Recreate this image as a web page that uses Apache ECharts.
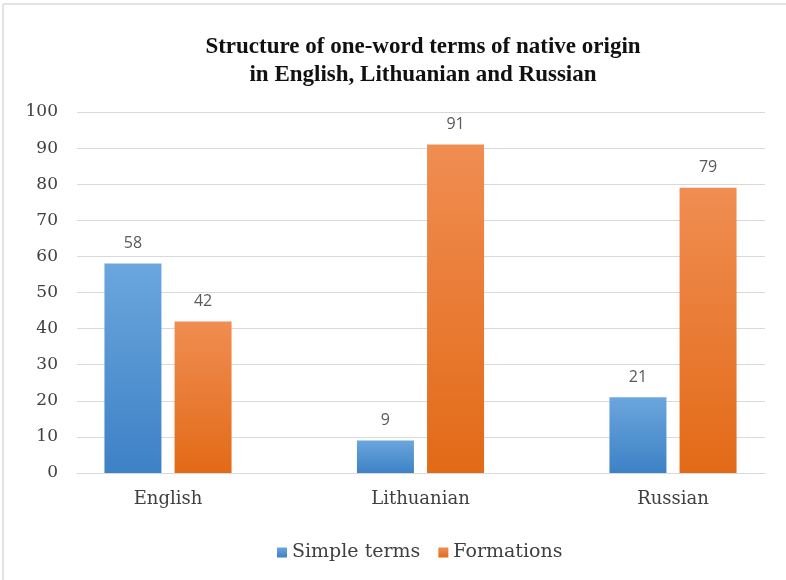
<!DOCTYPE html>
<html>
<head>
<meta charset="utf-8">
<script src="https://cdn.jsdelivr.net/npm/echarts@6/dist/echarts.min.js"></script>
<style>
html,body{margin:0;padding:0;background:#fff;}
#chart{width:786px;height:580px;}
</style>
</head>
<body>
<div id="chart"></div>
<script>
const categories = ['English', 'Lithuanian', 'Russian'];
const simpleTerms = [58, 9, 21];
const formations = [42, 91, 79];
const seriesNames = ['Simple terms', 'Formations'];
const titleLines = ['Structure of one-word terms of native origin', 'in English, Lithuanian and Russian'];

const chart = echarts.init(document.getElementById('chart'));

function grad(top, bottom) {
  return new echarts.graphic.LinearGradient(0, 0, 0, 1, [
    { offset: 0, color: top },
    { offset: 1, color: bottom }
  ]);
}

const labelStyle = {
  show: true,
  position: 'top',
  distance: 12,
  color: '#595959',
  fontFamily: 'Open Sans',
  fontSize: 16
};

chart.setOption({
  backgroundColor: '#ffffff',
  animation: false,
  title: {
    text: titleLines.join('\n'),
    left: 418,
    top: 28,
    textAlign: 'center',
    textStyle: {
      fontFamily: 'Liberation Serif',
      fontWeight: 'bold',
      fontSize: 23,
      lineHeight: 28,
      color: '#111111'
    }
  },
  graphic: [
    { type: 'line', shape: { x1: 3, y1: 4, x2: 786, y2: 4 }, style: { stroke: '#e3e3e3', lineWidth: 2 }, silent: true },
    { type: 'line', shape: { x1: 3, y1: 4, x2: 3, y2: 580 }, style: { stroke: '#e3e3e3', lineWidth: 2 }, silent: true }
  ],
  legend: {
    data: seriesNames,
    left: 272,
    top: 538,
    itemWidth: 10,
    itemHeight: 10,
    itemGap: 18,
    icon: 'rect',
    textStyle: {
      fontFamily: 'DejaVu Serif',
      fontSize: 19,
      color: '#404040'
    }
  },
  grid: [
    { left: 77, right: 21, top: 112, bottom: 107 },
    { left: 168, right: 113, top: 112, bottom: 107 }
  ],
  xAxis: [
    {
      type: 'category', gridIndex: 0, data: categories,
      axisLine: { show: true, lineStyle: { color: '#d9d9d9', width: 1 } },
      axisTick: { show: false },
      axisLabel: { show: false },
      splitLine: { show: false }
    },
    {
      type: 'category', gridIndex: 1, data: categories,
      boundaryGap: false,
      axisLine: { show: false },
      axisTick: { show: false },
      axisLabel: {
        show: true, margin: 17,
        fontFamily: 'DejaVu Serif', fontSize: 18, color: '#404040'
      },
      splitLine: { show: false }
    }
  ],
  yAxis: [
    {
      type: 'value', gridIndex: 0, min: 0, max: 100, interval: 10,
      axisLine: { show: false },
      axisTick: { show: false },
      axisLabel: {
        margin: 19,
        fontFamily: 'DejaVu Serif', fontSize: 17, color: '#404040'
      },
      splitLine: { show: true, lineStyle: { color: '#d9d9d9', width: 1 } }
    },
    {
      type: 'value', gridIndex: 1, min: 0, max: 100, interval: 10,
      show: false,
      splitLine: { show: false }
    }
  ],
  series: [
    {
      name: seriesNames[0],
      type: 'bar',
      xAxisIndex: 1, yAxisIndex: 1,
      clip: false,
      data: simpleTerms,
      barWidth: 57,
      barGap: '23%',
      itemStyle: { color: grad('#6ba6dd', '#3d81c6') },
      label: labelStyle
    },
    {
      name: seriesNames[1],
      type: 'bar',
      xAxisIndex: 1, yAxisIndex: 1,
      clip: false,
      data: formations,
      barWidth: 57,
      barGap: '23%',
      itemStyle: { color: grad('#f08d52', '#e26a17') },
      label: labelStyle
    }
  ]
});
</script>
</body>
</html>
